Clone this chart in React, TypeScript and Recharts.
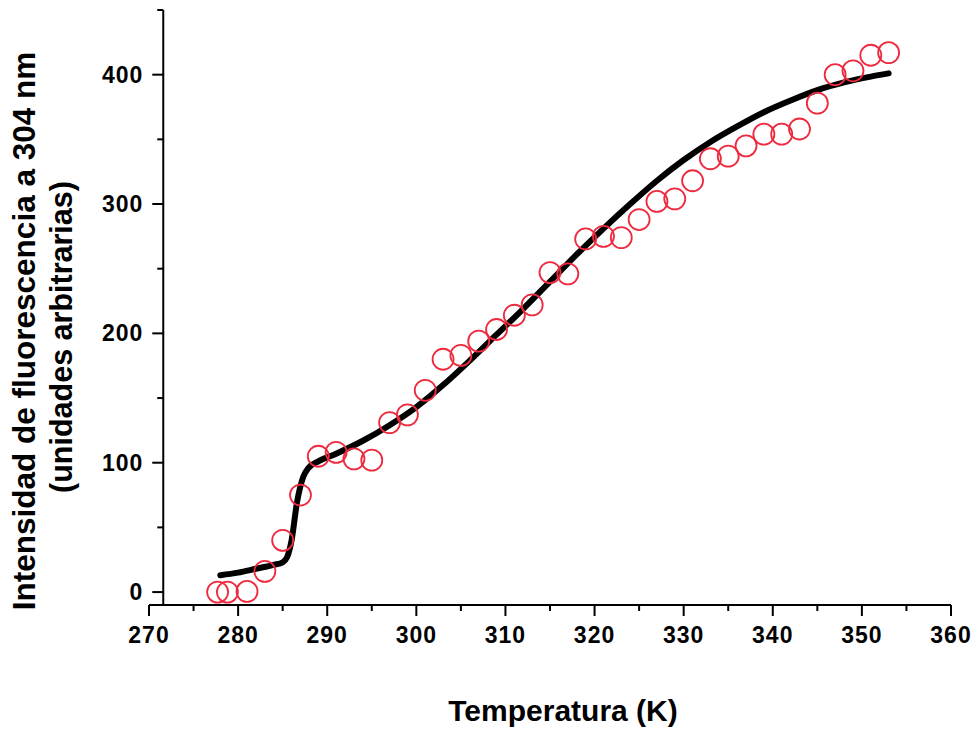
import React from "react";
import {
  ComposedChart,
  Line,
  Scatter,
  XAxis,
  YAxis,
  ReferenceLine
} from "recharts";

// measured points (open red circles)
const temps = [
  277.7, 278.8, 281, 283, 285, 287, 289, 291, 293, 295, 297, 299, 301, 303,
  305, 307, 309, 311, 313, 315, 317, 319, 321, 323, 325, 327, 329, 331, 333,
  335, 337, 339, 341, 343, 345, 347, 349, 351, 353
];
const intensity = [
  0, 0, 0.5, 16, 40, 75, 105, 108, 103, 102, 131, 137, 156, 180, 183, 194,
  203, 214, 222, 247, 246, 273, 275, 274, 288, 302, 304, 318, 335, 337, 345,
  354, 354, 358, 378, 400, 403, 415, 417
];

// fitted curve (black line)
const fitTemps = [
  278, 280, 282, 284, 285, 285.5, 286, 286.6, 287.3, 287.9, 289, 291, 294, 297,
  300, 303, 306, 309, 312, 315, 318, 321, 324, 327, 330, 333, 336, 339, 342,
  345, 348, 351, 353
];
const fitIntensity = [
  13, 15, 18, 21, 23, 27, 40, 69, 89, 96, 101, 107, 117, 129, 143, 160, 179,
  199, 219, 240, 261, 281, 300, 318, 334, 348, 360, 371, 380, 388, 394, 398.5,
  401
];

const xTicks = [270, 275, 280, 285, 290, 295, 300, 305, 310, 315, 320, 325, 330, 335, 340, 345, 350, 355, 360];
const yTicks = [0, 50, 100, 150, 200, 250, 300, 350, 400, 450];

const points = temps.map((t, i) => ({ x: t, y: intensity[i] }));
const fit = fitTemps.map((t, i) => ({ x: t, y: fitIntensity[i] }));

const FONT = "'Liberation Sans', Arial, Helvetica, sans-serif";
const Y_AXIS_AT = 271.6;
const Y_SHIFT = ((Y_AXIS_AT - 270) / 90) * 802;

const XTick = (props: any) => {
  const { x, y, payload } = props;
  const major = payload.value % 10 === 0;
  return (
    <g>
      <line x1={x} y1={y} x2={x} y2={y + (major ? 11 : 6)} stroke="#000" strokeWidth={2} />
      {major && (
        <text x={x} y={y + 38} textAnchor="middle" fontFamily={FONT} fontWeight="bold" fontSize={23} letterSpacing={1} fill="#000">
          {payload.value}
        </text>
      )}
    </g>
  );
};

const YTick = (props: any) => {
  const { x, y, payload } = props;
  const x0 = x + Y_SHIFT;
  const major = payload.value % 100 === 0;
  return (
    <g>
      <line x1={x0} y1={y} x2={x0 - (major ? 11 : 6)} y2={y} stroke="#000" strokeWidth={2} />
      {major && (
        <text x={x0 - 20} y={y + 8} textAnchor="end" fontFamily={FONT} fontWeight="bold" fontSize={23} letterSpacing={1} fill="#000">
          {payload.value}
        </text>
      )}
    </g>
  );
};

const Ring = (props: any) => (
  <circle cx={props.cx} cy={props.cy} r={10.5} fill="none" stroke="#ee2a3f" strokeWidth={1.8} />
);

export default function App() {
  return (
    <div style={{ position: "absolute", left: 0, top: 0, background: "#fff" }}>
      <ComposedChart
        width={977}
        height={735}
        margin={{ top: 10, right: 26, left: 89, bottom: 0 }}
      >
        <XAxis
          type="number"
          dataKey="x"
          domain={[270, 360]}
          ticks={xTicks}
          interval={0}
          allowDataOverflow
          tickSize={0}
          tickMargin={0}
          tickLine={false}
          axisLine={{ stroke: "#000", strokeWidth: 2 }}
          tick={<XTick />}
          height={130}
        />
        <YAxis
          type="number"
          dataKey="y"
          domain={[-10, 450]}
          ticks={yTicks}
          interval={0}
          allowDataOverflow
          tickSize={0}
          tickMargin={0}
          tickLine={false}
          axisLine={false}
          tick={<YTick />}
          width={60}
        />
        <ReferenceLine
          segment={[{ x: Y_AXIS_AT, y: -10 }, { x: Y_AXIS_AT, y: 450 }]}
          stroke="#000"
          strokeWidth={2}
          ifOverflow="visible"
        />
        <Scatter data={points} shape={<Ring />} isAnimationActive={false} />
        <Line
          data={fit}
          dataKey="y"
          type="monotone"
          stroke="#000"
          strokeWidth={6}
          strokeLinecap="round"
          dot={false}
          activeDot={false}
          isAnimationActive={false}
        />
        <text x={563} y={721} textAnchor="middle" fontFamily={FONT} fontWeight="bold" fontSize={30} fill="#000">
          Temperatura (K)
        </text>
        <text
          x={35}
          y={331}
          transform="rotate(-90, 35, 331)"
          textAnchor="middle"
          fontFamily={FONT}
          fontWeight="bold"
          fontSize={31.5}
          fill="#000"
        >
          Intensidad de fluorescencia a 304 nm
        </text>
        <text
          x={72}
          y={337}
          transform="rotate(-90, 72, 337)"
          textAnchor="middle"
          fontFamily={FONT}
          fontWeight="bold"
          fontSize={30.5}
          fill="#000"
        >
          (unidades arbitrarias)
        </text>
      </ComposedChart>
    </div>
  );
}
